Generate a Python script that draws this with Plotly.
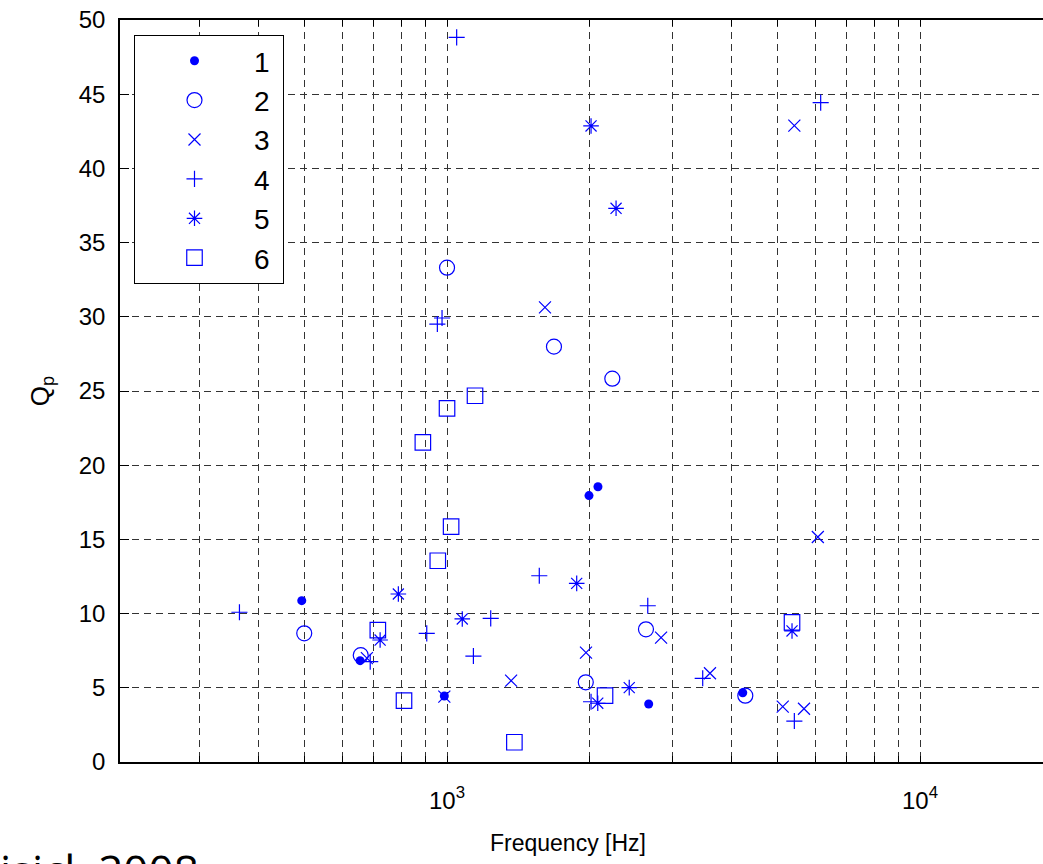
import plotly.graph_objects as go
import numpy as np

# ---------------- data ----------------
s1_f = [493, 655, 987, 1996, 2085, 2669, 4219]
s1_q = [10.87, 6.83, 4.45, 17.95, 18.55, 3.91, 4.67]

s2_f = [499, 657, 1000, 1683, 2236, 1965, 2634, 4272]
s2_q = [8.67, 7.2, 33.31, 27.99, 25.83, 5.37, 8.94, 4.47]

s3_f = [677, 987, 1611, 1366, 1967, 2835, 3597, 5126, 5685, 5424, 6081]
s3_q = [7.0, 4.4, 30.64, 5.48, 7.37, 8.38, 5.98, 3.73, 3.59, 42.88, 15.16]

s4_f = [364, 1048, 976, 954, 906, 688, 1137, 1237, 1567, 2016, 2657, 3472, 5424, 6166]
s4_q = [10.09, 48.83, 29.92, 29.51, 8.67, 6.76, 7.14, 9.68, 12.55, 4.06, 10.53, 5.64, 2.76, 44.43]

s5_f = [789, 722, 1077, 1880, 2016, 2277, 2083, 2428, 5363]
s5_q = [11.32, 8.22, 9.64, 12.04, 42.86, 37.31, 3.96, 5.01, 8.83]

s6_f = [889, 1000, 1146, 1020, 956, 714, 811, 1388, 2158, 5363]
s6_q = [21.54, 23.83, 24.68, 15.86, 13.56, 8.89, 4.13, 1.33, 4.47, 9.41]

series_names = ["1", "2", "3", "4", "5", "6"]
series_f = [s1_f, s2_f, s3_f, s4_f, s5_f, s6_f]
series_q = [s1_q, s2_q, s3_q, s4_q, s5_q, s6_q]

x_tickvals = [300, 400, 500, 600, 700, 800, 900, 1000,
              2000, 3000, 4000, 5000, 6000, 7000, 8000, 9000, 10000]
x_ticktext = ["10<sup>3</sup>" if v == 1000 else ("10<sup>4</sup>" if v == 10000 else "")
              for v in x_tickvals]
y_tickvals = [0, 5, 10, 15, 20, 25, 30, 35, 40, 45, 50]

# ---------------- styles ----------------
BLUE = "#0000ff"
styles = [
    dict(symbol="circle", size=9, color=BLUE, line=dict(width=0)),
    dict(symbol="circle-open", size=15, color=BLUE, line=dict(width=1.2, color=BLUE)),
    dict(symbol="x-thin-open", size=12, color=BLUE, line=dict(width=1.2, color=BLUE)),
    dict(symbol="cross-thin-open", size=11.5, color=BLUE, line=dict(width=1.2, color=BLUE)),
    dict(symbol="asterisk-open", size=13, color=BLUE, line=dict(width=1.2, color=BLUE)),
    dict(symbol="square-open", size=15.5, color=BLUE, line=dict(width=1.2, color=BLUE)),
]

fig = go.Figure()
for name, f, q, st in zip(series_names, series_f, series_q, styles):
    fig.add_trace(go.Scatter(x=f, y=q, mode="markers", name=name + "\u00a0",
                             legendgroup=name, marker=st))

W, H = 1043, 864
L, R, T, B = 120, 0, 20, 102
x_lo = np.log10(203.5)
x_hi = 3 + (W - R - 447) / 473.0

grid = dict(showgrid=True, gridcolor="#333333", griddash="7px,5px", gridwidth=1)
FONT = "Liberation Sans, Arial"

fig.update_layout(
    width=W, height=H,
    margin=dict(l=L, r=R, t=T, b=B),
    paper_bgcolor="white", plot_bgcolor="white",
    font=dict(family=FONT, size=23, color="black"),
    showlegend=True,
    legend=dict(
        x=(134 - L) / (W - L - R), y=1 - (35 - T) / (H - T - B),
        xanchor="left", yanchor="top",
        bgcolor="white", bordercolor="black", borderwidth=1,
        font=dict(size=28, family=FONT),
        itemwidth=109, tracegroupgap=0,
    ),
    xaxis=dict(
        type="log", range=[x_lo, x_hi],
        tickvals=x_tickvals, ticktext=x_ticktext,
        ticks="inside", ticklen=6, tickcolor="black",
        showline=True, linecolor="black", linewidth=1.5, mirror="ticks",
        zeroline=False, ticklabelstandoff=16,
        tickfont=dict(size=24),
        **grid,
    ),
    yaxis=dict(
        range=[0, 50], tickvals=y_tickvals,
        ticks="inside", ticklen=9, tickcolor="black",
        showline=True, linecolor="black", linewidth=1.5,
        zeroline=False, ticklabelstandoff=8,
        tickfont=dict(size=24),
        title=dict(text="Q<sub>p</sub>", font=dict(size=26), standoff=22),
        **grid,
    ),
    annotations=[
        dict(text="Frequency [Hz]", xref="paper", yref="paper",
             x=(568 - L) / (W - L - R), y=-(843 - (H - B)) / (H - T - B),
             xanchor="center", yanchor="middle", showarrow=False,
             font=dict(size=23, family=FONT)),
        dict(text="isicl, 2008", xref="paper", yref="paper",
             x=(-2 - L) / (W - L - R), y=-(838 - (H - B)) / (H - T - B),
             xanchor="left", yanchor="top", showarrow=False,
             font=dict(size=44, family="Open Sans")),
    ],
)

fig.write_html("out.html")
